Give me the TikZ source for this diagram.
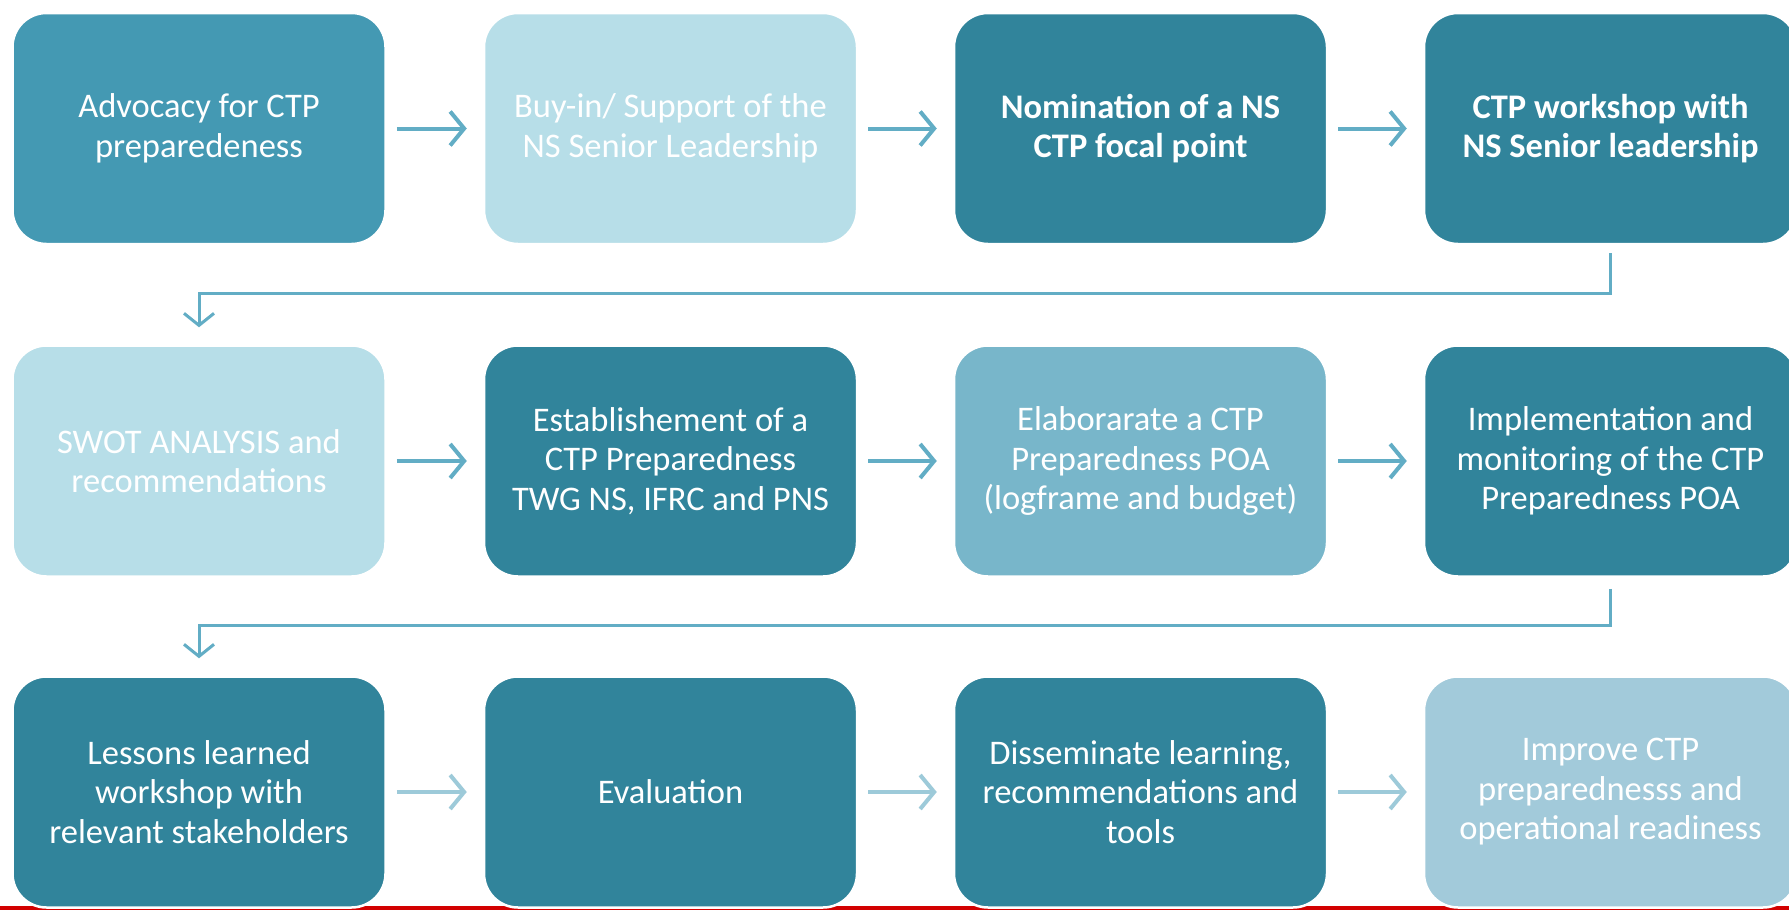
\documentclass[tikz,border=0pt]{standalone}
\usepackage{fontspec}
\setmainfont{Carlito}
\usetikzlibrary{arrows.meta,calc}
\definecolor{cmid}{HTML}{4499B3}
\definecolor{clight}{HTML}{B7DEE8}
\definecolor{cdark}{HTML}{31849B}
\definecolor{cmed}{HTML}{78B6CA}
\definecolor{cpale}{HTML}{A2CADA}
\definecolor{carrow}{HTML}{62ADC5}
\definecolor{carrowl}{HTML}{9DCAD9}
\definecolor{cred}{HTML}{D20000}
\tikzset{
  box/.style={rectangle, rounded corners=34pt, draw=white, line width=2.5pt,
    minimum width=373pt, minimum height=231pt, align=center, text=white,
    inner sep=0pt, font=\fontsize{34.5}{39.5}\selectfont},
  boldbox/.style={box, font=\fontsize{34.5}{39.5}\selectfont\bfseries},
  harrow/.style={draw=carrow, line width=4pt, shorten <=10pt, shorten >=16pt,
    -{Straight Barb[length=14pt, width=34pt, line width=4pt]}},
  harrowl/.style={harrow, draw=carrowl},
  conn/.style={draw=carrow, line width=3pt,
    -{Straight Barb[length=12pt, width=30pt, line width=3pt]}}
}
\begin{document}
\begin{tikzpicture}[x=1pt, y=-1pt]
\useasboundingbox (0,0) rectangle (1789,910);
\clip (0,0) rectangle (1789,910);
\fill[white] (0,0) rectangle (1789,910);
\fill[cred] (0,905.5) rectangle (1789,910);
% row 1
\node[box, fill=cmid] (a1) at (199,128.5) {Advocacy for CTP\\preparedeness};
\node[box, fill=clight] (a2) at (670.5,128.5) {Buy-in/ Support of the\\NS Senior Leadership};
\node[boldbox, fill=cdark] (a3) at (1140.5,128.5) {Nomination of a NS\\CTP focal point};
\node[boldbox, fill=cdark] (a4) at (1610.5,128.5) {CTP workshop with\\NS Senior leadership};
% row 2
\node[box, fill=clight] (b1) at (199,461) {SWOT ANALYSIS and\\recommendations};
\node[box, fill=cdark] (b2) at (670.5,461) {Establishement of a\\CTP Preparedness\\TWG NS, IFRC and PNS};
\node[box, fill=cmed] (b3) at (1140.5,461) {Elaborarate a CTP\\Preparedness POA\\(logframe and budget)};
\node[box, fill=cdark] (b4) at (1610.5,461) {Implementation and\\monitoring of the CTP\\Preparedness POA};
% row 3
\node[box, fill=cdark] (c1) at (199,792) {Lessons learned\\workshop with\\relevant stakeholders};
\node[box, fill=cdark] (c2) at (670.5,792) {Evaluation};
\node[box, fill=cdark] (c3) at (1140.5,792) {Disseminate learning,\\recommendations and\\tools};
\node[box, fill=cpale] (c4) at (1610.5,792) {Improve CTP\\preparednesss and\\operational readiness};
% horizontal arrows
\draw[harrow] (a1) -- (a2);
\draw[harrow] (a2) -- (a3);
\draw[harrow] (a3) -- (a4);
\draw[harrow] (b1) -- (b2);
\draw[harrow] (b2) -- (b3);
\draw[harrow] (b3) -- (b4);
\draw[harrowl] (c1) -- (c2);
\draw[harrowl] (c2) -- (c3);
\draw[harrowl] (c3) -- (c4);
% row connectors
\draw[conn, shorten <=8pt, shorten >=17pt] (a4.south) -- ++(0,48.5) -| (b1.north);
\draw[conn, shorten <=11pt, shorten >=17pt] (b4.south) -- ++(0,48) -| (c1.north);
\end{tikzpicture}
\end{document}
